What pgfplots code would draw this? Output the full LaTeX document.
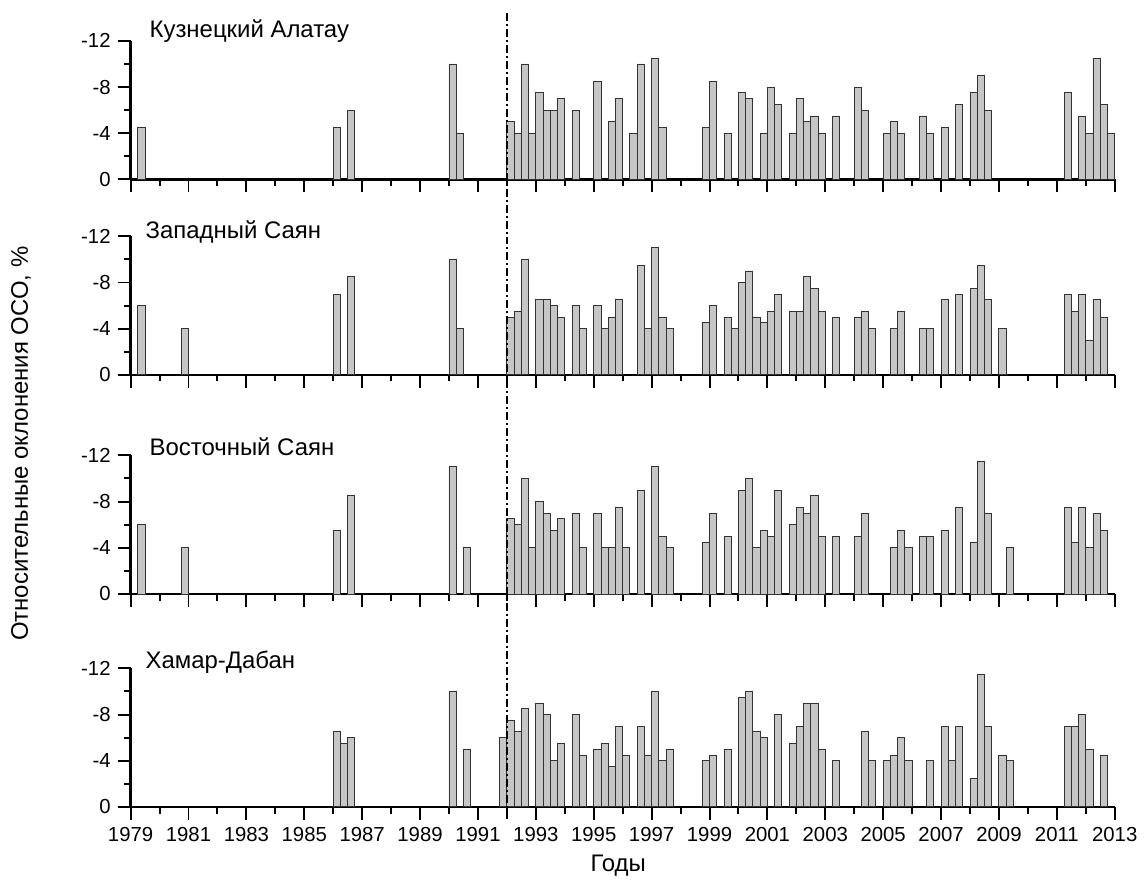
\documentclass[border=0pt]{standalone}
\usepackage{fontspec}
\setmainfont{Liberation Sans}
\usepackage{pgfplots}
\pgfplotsset{compat=1.18}

\definecolor{barfill}{RGB}{198,198,198}

\tikzset{ttl/.style={anchor=base west, font=\fontsize{12}{14}\selectfont}}

\pgfplotsset{
  panel/.style={
    scale only axis, width=493.5pt, height=69.5pt,
    anchor=south west,
    xmin=1979, xmax=2013, ymin=-12, ymax=0, y dir=reverse,
    axis x line*=bottom, axis y line*=left,
    axis line style={line width=1.2pt},
    tick align=outside,
    every tick/.style={black, line width=1pt},
    major tick length=6.5pt, minor tick length=3.3pt,
    xtick={1979,1981,...,2013}, minor xtick={1980,1982,...,2012},
    ytick={-12,-8,-4,0}, minor ytick={-10,-6,-2},
    /pgf/number format/assume math mode=true,
    /pgf/number format/1000 sep={},
    tick label style={font=\fontsize{10.2}{12}\selectfont},
    ybar, bar width=0.25, bar shift=0pt,
    clip=false,
  },
  bars/.style={fill=barfill, draw=black!80, line width=0.45pt},
}

\begin{document}
\begin{tikzpicture}
\path (-65.5pt,0pt) rectangle (506.5pt,-444pt);

% Panel 1: Kuznetsky Alatau
\begin{axis}[panel, at={(0pt,-90pt)}, xticklabels={}]
\addplot[bars] coordinates {
(1979.375,-4.5) (1986.125,-4.5) (1986.625,-6) (1990.125,-10) (1990.375,-4)
(1992.125,-5) (1992.375,-4) (1992.625,-10) (1992.875,-4)
(1993.125,-7.5) (1993.375,-6) (1993.625,-6) (1993.875,-7)
(1994.375,-6)
(1995.125,-8.5) (1995.625,-5) (1995.875,-7)
(1996.375,-4) (1996.625,-10)
(1997.125,-10.5) (1997.375,-4.5)
(1998.875,-4.5)
(1999.125,-8.5) (1999.625,-4)
(2000.125,-7.5) (2000.375,-7) (2000.875,-4)
(2001.125,-8) (2001.375,-6.5) (2001.875,-4)
(2002.125,-7) (2002.375,-5) (2002.625,-5.5) (2002.875,-4)
(2003.375,-5.5)
(2004.125,-8) (2004.375,-6)
(2005.125,-4) (2005.375,-5) (2005.625,-4)
(2006.375,-5.5) (2006.625,-4)
(2007.125,-4.5) (2007.625,-6.5)
(2008.125,-7.5) (2008.375,-9) (2008.625,-6)
(2011.375,-7.5) (2011.875,-5.5)
(2012.125,-4) (2012.375,-10.5) (2012.625,-6.5) (2012.875,-4)
};
\node[ttl, xshift=6pt, yshift=1.5pt] at (axis cs:1979,-12) {Кузнецкий Алатау};
\coordinate (dtop) at (axis cs:1992,-14.4);
\end{axis}

% Panel 2: Western Sayan
\begin{axis}[panel, at={(0pt,-188pt)}, xticklabels={}]
\addplot[bars] coordinates {
(1979.375,-6) (1980.875,-4) (1986.125,-7) (1986.625,-8.5) (1990.125,-10) (1990.375,-4)
(1992.125,-5) (1992.375,-5.5) (1992.625,-10)
(1993.125,-6.5) (1993.375,-6.5) (1993.625,-6) (1993.875,-5)
(1994.375,-6) (1994.625,-4)
(1995.125,-6) (1995.375,-4) (1995.625,-5) (1995.875,-6.5)
(1996.625,-9.5) (1996.875,-4)
(1997.125,-11) (1997.375,-5) (1997.625,-4)
(1998.875,-4.5)
(1999.125,-6) (1999.625,-5) (1999.875,-4)
(2000.125,-8) (2000.375,-9) (2000.625,-5) (2000.875,-4.5)
(2001.125,-5.5) (2001.375,-7) (2001.875,-5.5)
(2002.125,-5.5) (2002.375,-8.5) (2002.625,-7.5) (2002.875,-5.5)
(2003.375,-5)
(2004.125,-5) (2004.375,-5.5) (2004.625,-4)
(2005.375,-4) (2005.625,-5.5)
(2006.375,-4) (2006.625,-4)
(2007.125,-6.5) (2007.625,-7)
(2008.125,-7.5) (2008.375,-9.5) (2008.625,-6.5)
(2009.125,-4)
(2011.375,-7) (2011.625,-5.5) (2011.875,-7)
(2012.125,-3) (2012.375,-6.5) (2012.625,-5)
};
\node[ttl, xshift=4pt, yshift=-1pt] at (axis cs:1979,-12) {Западный Саян};
\end{axis}

% Panel 3: Eastern Sayan
\begin{axis}[panel, at={(0pt,-297.85pt)}, xticklabels={}]
\addplot[bars] coordinates {
(1979.375,-6) (1980.875,-4) (1986.125,-5.5) (1986.625,-8.5) (1990.125,-11) (1990.625,-4)
(1992.125,-6.5) (1992.375,-6) (1992.625,-10) (1992.875,-4)
(1993.125,-8) (1993.375,-7) (1993.625,-5.5) (1993.875,-6.5)
(1994.375,-7) (1994.625,-4)
(1995.125,-7) (1995.375,-4) (1995.625,-4) (1995.875,-7.5)
(1996.125,-4) (1996.625,-9)
(1997.125,-11) (1997.375,-5) (1997.625,-4)
(1998.875,-4.5)
(1999.125,-7) (1999.625,-5)
(2000.125,-9) (2000.375,-10) (2000.625,-4) (2000.875,-5.5)
(2001.125,-5) (2001.375,-9) (2001.875,-6)
(2002.125,-7.5) (2002.375,-7) (2002.625,-8.5) (2002.875,-5)
(2003.375,-5)
(2004.125,-5) (2004.375,-7)
(2005.375,-4) (2005.625,-5.5) (2005.875,-4)
(2006.375,-5) (2006.625,-5)
(2007.125,-5.5) (2007.625,-7.5)
(2008.125,-4.5) (2008.375,-11.5) (2008.625,-7)
(2009.375,-4)
(2011.375,-7.5) (2011.625,-4.5) (2011.875,-7.5)
(2012.125,-4) (2012.375,-7) (2012.625,-5.5)
};
\node[ttl, xshift=6pt] at (axis cs:1979,-12) {Восточный Саян};
\end{axis}

% Panel 4: Khamar-Daban
\begin{axis}[panel, at={(0pt,-404.65pt)}]
\addplot[bars] coordinates {
(1986.125,-6.5) (1986.375,-5.5) (1986.625,-6) (1990.125,-10) (1990.625,-5)
(1991.875,-6)
(1992.125,-7.5) (1992.375,-6.5) (1992.625,-8.5)
(1993.125,-9) (1993.375,-8) (1993.625,-4) (1993.875,-5.5)
(1994.375,-8) (1994.625,-4.5)
(1995.125,-5) (1995.375,-5.5) (1995.625,-3.5) (1995.875,-7)
(1996.125,-4.5) (1996.625,-7) (1996.875,-4.5)
(1997.125,-10) (1997.375,-4) (1997.625,-5)
(1998.875,-4)
(1999.125,-4.5) (1999.625,-5)
(2000.125,-9.5) (2000.375,-10) (2000.625,-6.5) (2000.875,-6)
(2001.375,-8) (2001.875,-5.5)
(2002.125,-7) (2002.375,-9) (2002.625,-9) (2002.875,-5)
(2003.375,-4)
(2004.375,-6.5) (2004.625,-4)
(2005.125,-4) (2005.375,-4.5) (2005.625,-6) (2005.875,-4)
(2006.625,-4)
(2007.125,-7) (2007.375,-4) (2007.625,-7)
(2008.125,-2.5) (2008.375,-11.5) (2008.625,-7)
(2009.125,-4.5) (2009.375,-4)
(2011.375,-7) (2011.625,-7) (2011.875,-8)
(2012.125,-5) (2012.625,-4.5)
};
\node[ttl, xshift=4pt] at (axis cs:1979,-12) {Хамар-Дабан};
\coordinate (dbot) at (axis cs:1992,1.1);
\end{axis}

\draw[line width=0.8pt, dash pattern=on 4pt off 1.5pt on 1pt off 1.5pt] (dtop) -- (dbot);

\node[rotate=90, font=\fontsize{12}{14}\selectfont] at (-55pt,-222.5pt) {Относительные оклонения ОСО, \%};
\node[font=\fontsize{12}{14}\selectfont] at (244.5pt,-434pt) {Годы};

\end{tikzpicture}
\end{document}
